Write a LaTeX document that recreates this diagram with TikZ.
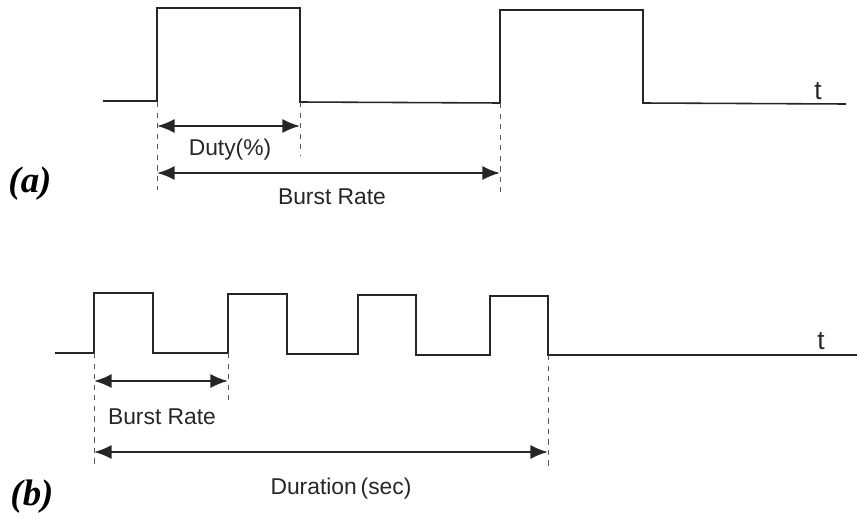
\documentclass[tikz,border=0pt]{standalone}
\usepackage{fontspec}
\setmainfont{Liberation Sans}
\newfontfamily\panelfont{Liberation Serif}
\usetikzlibrary{arrows.meta}

\tikzset{
  wave/.style={line width=0.9pt, black!85},
  guide/.style={line width=0.5pt, dash pattern=on 3pt off 3pt, black!65},
  span/.style={{Latex[length=10pt,width=8pt]}-{Latex[length=10pt,width=8pt]}, line width=1.2pt, black!85},
  lbl/.style={font=\fontsize{13}{15}\selectfont, text=black!85},
  tlbl/.style={font=\fontsize{15}{17}\selectfont, text=black!85},
  tag/.style={font=\panelfont\bfseries\itshape\fontsize{21}{24}\selectfont}
}

\begin{document}
\begin{tikzpicture}[x=0.02cm,y=-0.02cm]
    \useasboundingbox (0,0) rectangle (857,517);

    % Panel (a): two wide pulses
    \draw[wave] (103,101) -- (157,101) -- (157,8) -- (300,8) -- (300,102)
        -- (500,103) -- (500,10) -- (643,10) -- (643,103) -- (846,104);
    \node[tlbl] (ta) at (818,91) {t};

    % edges used by the guides
    \coordinate (a1) at (157,102);
    \coordinate (a2) at (300,102);
    \coordinate (a3) at (500,103);
    \coordinate (a1b) at (157,190);
    \coordinate (a2b) at (300,156);
    \coordinate (a3b) at (500,192);
    \draw[guide] (a1) -- (a1b);
    \draw[guide] (a2) -- (a2b);
    \draw[guide] (a3) -- (a3b);

    % Arrows
    \coordinate (dutyL) at (157,126);
    \coordinate (dutyR) at (300,126);
    \coordinate (rateL) at (157,173);
    \coordinate (rateR) at (500,173);
    \draw[span] (dutyL) -- (dutyR);
    \draw[span] (rateL) -- (rateR);
    \node[lbl] (duty) at (230,150) {Duty(\%)};
    \node[lbl] (rate) at (332,197) {Burst Rate};
    \node[tag] (pa) at (30,184) {(a)};

    % Panel (b): four short pulses
    \draw[wave] (55,353) -- (94,353)
        -- (94,293) -- (153,293) -- (153,353) -- (228,353)
        -- (228,294) -- (287,294) -- (287,354) -- (358,354)
        -- (358,295) -- (416,295) -- (416,355) -- (490,355)
        -- (490,296) -- (548,296) -- (548,355) -- (857,355);
    \node[tlbl] (tb) at (821,341) {t};

    \coordinate (b1) at (94,353);
    \coordinate (b2) at (228,353);
    \coordinate (b3) at (548,355);
    \coordinate (b1b) at (94,465);
    \coordinate (b2b) at (228,400);
    \coordinate (b3b) at (548,466);
    \draw[guide] (b1) -- (b1b);
    \draw[guide] (b2) -- (b2b);
    \draw[guide] (b3) -- (b3b);

    \coordinate (burstL) at (94,381);
    \coordinate (burstR) at (228,381);
    \coordinate (durL) at (94,452);
    \coordinate (durR) at (548,452);
    \draw[span] (burstL) -- (burstR);
    \draw[span] (durL) -- (durR);
    \node[lbl] (burst) at (162,417) {Burst Rate};
    \node[lbl] (dur) at (341,489) {Duration\,(sec)};
    \node[tag] (pb) at (32,497) {(b)};
\end{tikzpicture}
\end{document}
